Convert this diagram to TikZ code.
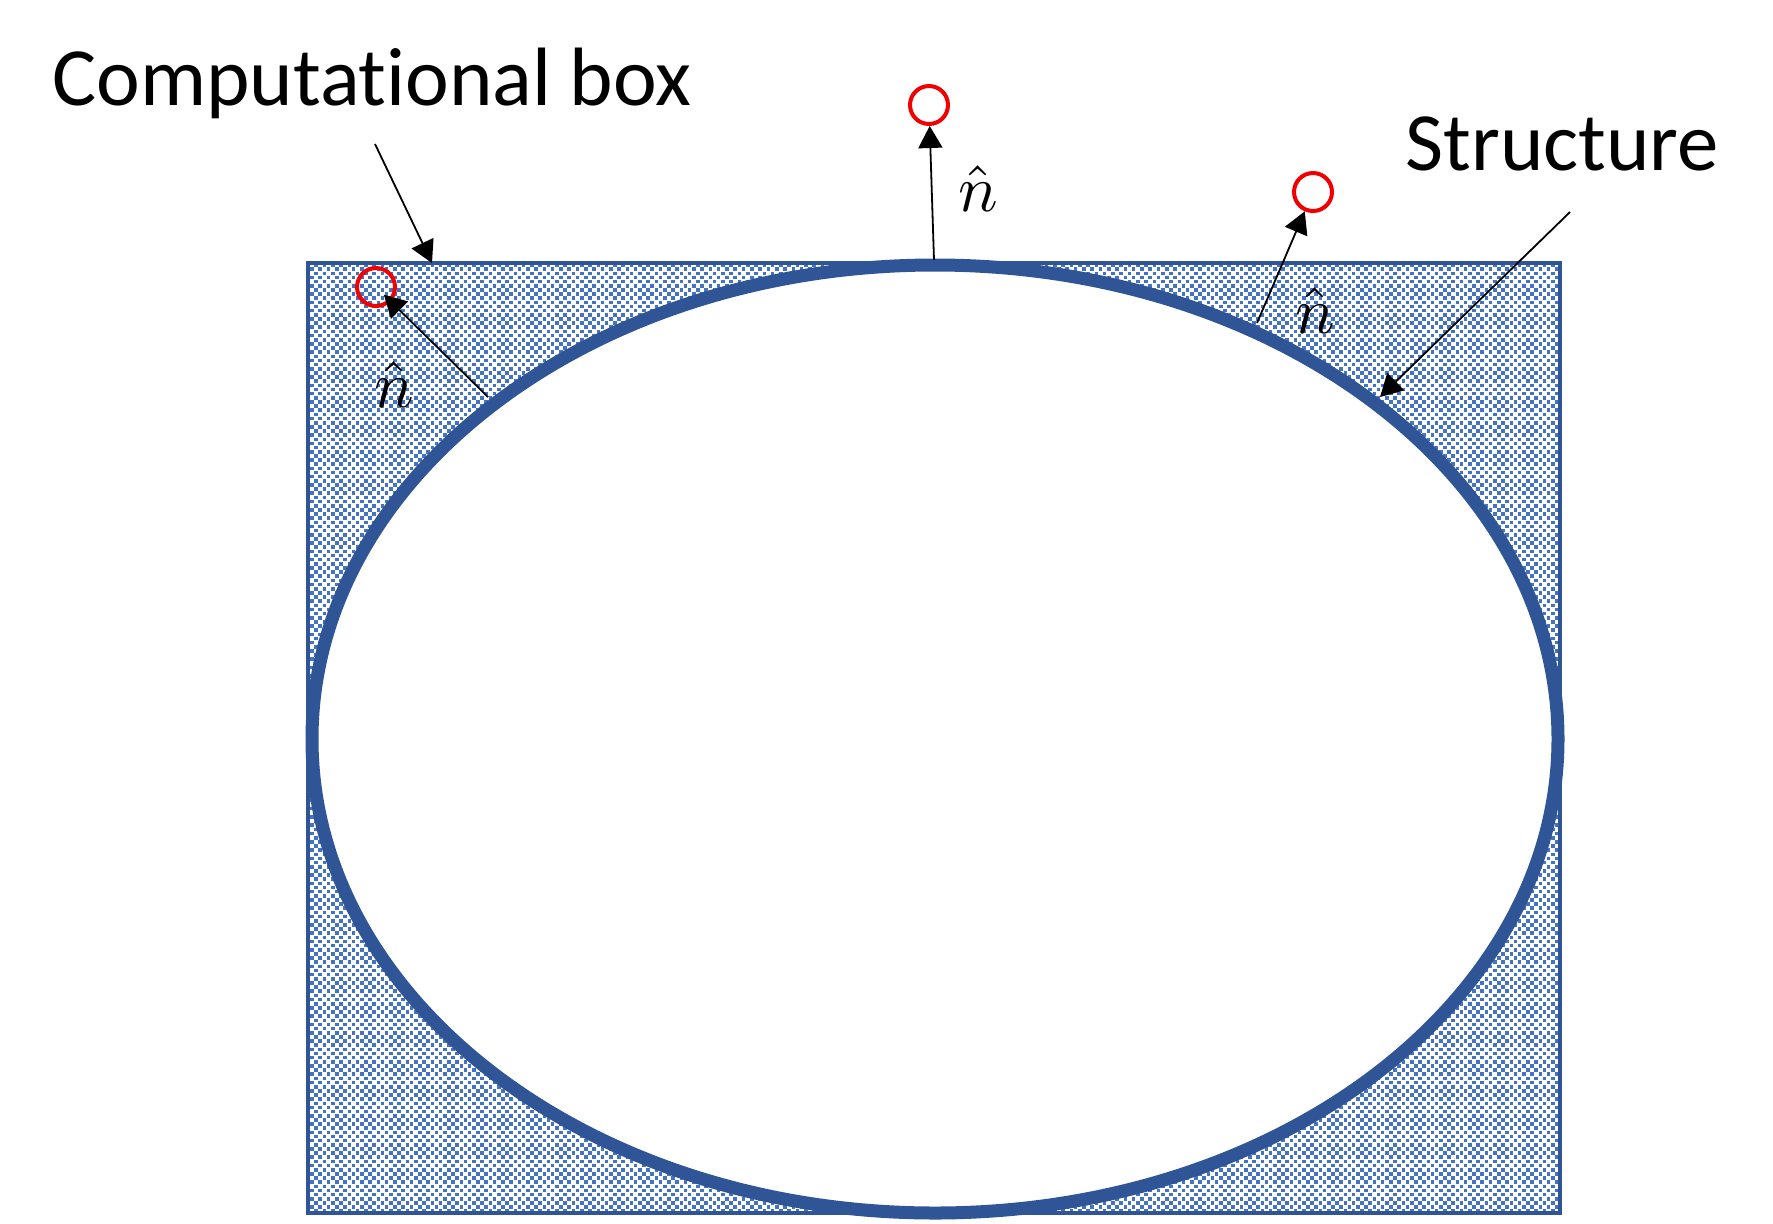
\documentclass[tikz,border=0pt]{standalone}
\usepackage{fontspec}
\setmainfont{Carlito}[Ligatures=NoCommon]
\usetikzlibrary{arrows.meta}
\definecolor{edgeblue}{HTML}{2F5597}
\definecolor{patblue}{HTML}{4472C4}
\definecolor{probered}{HTML}{F00000}
\tikzset{
  label text/.style={font=\fontsize{41.4pt}{48pt}\selectfont, inner sep=0pt, anchor=base west},
  nhat/.style={scale=3.3, inner sep=0pt},
  probe/.style={circle, draw=probered, line width=2pt, minimum size=19pt, inner sep=0pt},
  normal arrow/.style={line width=0.9pt, -{Triangle[length=11pt,width=12pt]}},
  checkrow/.style={draw=patblue, line width=1.8pt, dash pattern=on 1.8pt off 2.35pt},
}
\begin{document}
\begin{tikzpicture}[x=0.5pt,y=-0.5pt]
\useasboundingbox (0,0) rectangle (1773,1223);
% computational box: checker fill
\begin{scope}
  \clip (308,263) rectangle (1560,1213);
  \foreach \k in {0,...,230} {
    \pgfmathsetmacro\yy{265+4.15*\k}
    \pgfmathsetmacro\ph{mod(\k,2)*2.075}
    \draw[checkrow, dash phase={\ph pt}] (306,\yy) -- (1562,\yy);
  }
\end{scope}
\node[draw=edgeblue, line width=2pt, minimum width=626pt, minimum height=475pt, inner sep=0pt] (box) at (934,738) {};
% structure (ellipse)
\draw[draw=edgeblue, fill=white, line width=6.5pt] (935,739) ellipse [x radius=311.5pt, y radius=237pt];
% probe points
\node[probe] (p1) at (929,105) {};
\node[probe] (p2) at (376,287) {};
\node[probe] (p3) at (1313,192) {};
% normal start points on the ellipse
\coordinate (s1) at (934,260);
\coordinate (s2) at (488,397);
\coordinate (s3) at (1257,323);
\draw[normal arrow] (s1) -- (p1);
\draw[normal arrow, shorten >=-5pt] (s2) -- (p2);
\draw[normal arrow] (s3) -- (p3);
% normal labels
\node[nhat] (n1) at (978,189) {$\hat{n}$};
\node[nhat] (n2) at (394,385) {$\hat{n}$};
\node[nhat] (n3) at (1315,311) {$\hat{n}$};
% labels
\node[label text] (cbl) at (52,105) {Computational box};
\node[label text] (stl) at (1405,170) {Structure};
\coordinate (cbs) at (375,144);
\coordinate (cbt) at (432,263);
\coordinate (sts) at (1570,212);
\coordinate (stt) at (1380,397);
\draw[normal arrow] (cbs) -- (cbt);
\draw[normal arrow] (sts) -- (stt);
\end{tikzpicture}
\end{document}
